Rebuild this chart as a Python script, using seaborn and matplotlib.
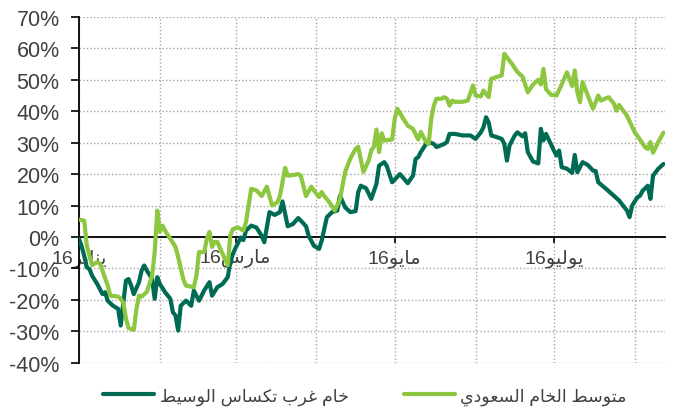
import numpy as np
import pandas as pd
import matplotlib
matplotlib.use("Agg")
import matplotlib.pyplot as plt
import matplotlib.dates as mdates
from matplotlib.ticker import FuncFormatter
from matplotlib.transforms import ScaledTranslation
from matplotlib.lines import Line2D
import seaborn as sns

# ---------------- data ----------------
series_names = ["خام غرب تكساس الوسيط", "متوسط الخام السعودي"]
month_labels = ["يناير", "مارس", "مايو", "يوليو"]
year_label = "16"

saudi_dates = [
    "2016-01-01", "2016-01-03", "2016-01-04", "2016-01-06", "2016-01-08", "2016-01-09", "2016-01-10",
    "2016-01-12", "2016-01-13", "2016-01-16", "2016-01-17", "2016-01-18", "2016-01-19", "2016-01-20",
    "2016-01-22", "2016-01-23", "2016-01-24", "2016-01-25", "2016-01-27", "2016-01-29", "2016-01-30",
    "2016-01-31", "2016-02-01", "2016-02-02", "2016-02-03", "2016-02-05", "2016-02-07", "2016-02-08",
    "2016-02-09", "2016-02-10", "2016-02-11", "2016-02-14", "2016-02-15", "2016-02-16", "2016-02-18",
    "2016-02-19", "2016-02-20", "2016-02-21", "2016-02-22", "2016-02-23", "2016-02-24", "2016-02-27",
    "2016-02-28", "2016-02-29", "2016-03-02", "2016-03-04", "2016-03-05", "2016-03-07", "2016-03-09",
    "2016-03-11", "2016-03-13", "2016-03-15", "2016-03-17", "2016-03-18", "2016-03-20", "2016-03-21",
    "2016-03-23", "2016-03-25", "2016-03-26", "2016-03-28", "2016-03-30", "2016-03-31", "2016-04-02",
    "2016-04-03", "2016-04-04", "2016-04-06", "2016-04-08", "2016-04-10", "2016-04-12", "2016-04-14",
    "2016-04-16", "2016-04-17", "2016-04-19", "2016-04-21", "2016-04-22", "2016-04-23", "2016-04-24",
    "2016-04-25", "2016-04-26", "2016-04-27", "2016-04-30", "2016-05-01", "2016-05-02", "2016-05-04",
    "2016-05-06", "2016-05-08", "2016-05-10", "2016-05-11", "2016-05-13", "2016-05-14", "2016-05-15",
    "2016-05-16", "2016-05-17", "2016-05-19", "2016-05-20", "2016-05-21", "2016-05-22", "2016-05-23",
    "2016-05-24", "2016-05-27", "2016-05-29", "2016-05-31", "2016-06-01", "2016-06-03", "2016-06-04",
    "2016-06-06", "2016-06-07", "2016-06-09", "2016-06-11", "2016-06-12", "2016-06-15", "2016-06-17",
    "2016-06-19", "2016-06-21", "2016-06-23", "2016-06-25", "2016-06-26", "2016-06-27", "2016-06-28",
    "2016-06-30", "2016-07-02", "2016-07-04", "2016-07-06", "2016-07-07", "2016-07-08", "2016-07-09",
    "2016-07-10", "2016-07-11", "2016-07-12", "2016-07-14", "2016-07-16", "2016-07-18", "2016-07-19",
    "2016-07-22", "2016-07-24", "2016-07-25", "2016-07-26", "2016-07-29", "2016-07-31", "2016-08-01",
    "2016-08-03", "2016-08-05", "2016-08-06", "2016-08-07", "2016-08-08", "2016-08-10", "2016-08-12",
]
saudi_values = [
    5.5, 5.2, -2.8, -9.0, -8.0, -8.5, -10.7,
    -15.5, -18.7, -19.0, -19.7, -21.0, -26.0, -29.0,
    -29.6, -23.0, -18.7, -19.0, -17.5, -12.3, -5.0,
    8.4, 1.6, 3.6, 2.0, -0.6, -3.2, -6.4,
    -10.0, -13.5, -15.5, -16.0, -12.3, -4.8, -4.8,
    -0.6, 1.6, -3.2, -1.6, -1.6, -3.5, -9.0,
    0.5, 2.5, 3.0, 2.0, 4.7, 15.3, 14.8,
    13.0, 16.0, 10.0, 11.0, 13.0, 22.0, 19.5,
    19.7, 20.0, 19.5, 13.0, 16.0, 14.8, 12.7,
    14.3, 13.0, 11.0, 8.4, 12.0, 20.7, 25.0,
    28.0, 28.7, 20.7, 24.3, 27.5, 28.7, 34.2,
    27.0, 33.0, 30.7, 31.0, 37.6, 40.8, 38.0,
    35.4, 34.4, 31.0, 33.4, 30.2, 29.6, 37.6,
    41.8, 44.0, 44.0, 44.5, 44.0, 41.8, 43.4,
    43.0, 43.0, 43.4, 48.2, 45.0, 44.7, 46.6,
    44.5, 50.3, 50.9, 51.4, 58.3, 55.0, 52.5,
    51.0, 46.0, 48.5, 50.0, 48.5, 53.5, 47.0,
    45.2, 45.0, 48.5, 52.4, 50.3, 48.0, 53.0,
    46.0, 42.9, 49.3, 45.0, 40.8, 45.0, 43.4,
    44.5, 42.4, 40.2, 42.0, 38.6, 35.0, 33.3,
    31.0, 28.5, 28.0, 30.2, 26.8, 30.2, 33.2,
]

wti_dates = [
    "2016-01-01", "2016-01-02", "2016-01-03", "2016-01-04", "2016-01-05", "2016-01-06", "2016-01-08",
    "2016-01-10", "2016-01-11", "2016-01-12", "2016-01-14", "2016-01-16", "2016-01-17", "2016-01-18",
    "2016-01-19", "2016-01-20", "2016-01-21", "2016-01-22", "2016-01-24", "2016-01-25", "2016-01-26",
    "2016-01-27", "2016-01-29", "2016-01-30", "2016-01-31", "2016-02-01", "2016-02-03", "2016-02-05",
    "2016-02-06", "2016-02-07", "2016-02-08", "2016-02-09", "2016-02-11", "2016-02-13", "2016-02-14",
    "2016-02-16", "2016-02-18", "2016-02-20", "2016-02-21", "2016-02-23", "2016-02-25", "2016-02-27",
    "2016-02-28", "2016-02-29", "2016-03-01", "2016-03-03", "2016-03-04", "2016-03-05", "2016-03-07",
    "2016-03-09", "2016-03-11", "2016-03-12", "2016-03-14", "2016-03-16", "2016-03-18", "2016-03-19",
    "2016-03-21", "2016-03-23", "2016-03-25", "2016-03-26", "2016-03-28", "2016-03-29", "2016-03-31",
    "2016-04-02", "2016-04-03", "2016-04-04", "2016-04-05", "2016-04-07", "2016-04-09", "2016-04-10",
    "2016-04-12", "2016-04-14", "2016-04-16", "2016-04-17", "2016-04-18", "2016-04-20", "2016-04-22",
    "2016-04-24", "2016-04-25", "2016-04-27", "2016-04-28", "2016-04-30", "2016-05-03", "2016-05-06",
    "2016-05-08", "2016-05-09", "2016-05-10", "2016-05-11", "2016-05-13", "2016-05-14", "2016-05-16",
    "2016-05-17", "2016-05-20", "2016-05-21", "2016-05-22", "2016-05-24", "2016-05-27", "2016-05-30",
    "2016-06-01", "2016-06-03", "2016-06-04", "2016-06-05", "2016-06-06", "2016-06-07", "2016-06-09",
    "2016-06-11", "2016-06-12", "2016-06-13", "2016-06-14", "2016-06-16", "2016-06-17", "2016-06-19",
    "2016-06-20", "2016-06-21", "2016-06-23", "2016-06-25", "2016-06-26", "2016-06-27", "2016-06-28",
    "2016-06-29", "2016-07-01", "2016-07-02", "2016-07-03", "2016-07-04", "2016-07-06", "2016-07-08",
    "2016-07-09", "2016-07-10", "2016-07-12", "2016-07-14", "2016-07-16", "2016-07-17", "2016-07-18",
    "2016-07-21", "2016-07-24", "2016-07-26", "2016-07-27", "2016-07-29", "2016-07-30", "2016-07-31",
    "2016-08-02", "2016-08-03", "2016-08-04", "2016-08-06", "2016-08-07", "2016-08-08", "2016-08-10",
    "2016-08-12",
]
wti_values = [
    -0.6, -3.0, -6.0, -9.7, -10.2, -12.3, -15.0,
    -18.2, -17.6, -20.3, -21.9, -22.9, -28.2, -20.8,
    -13.9, -13.4, -15.5, -18.2, -14.4, -10.7, -9.1,
    -10.7, -13.4, -19.7, -12.8, -15.0, -17.6, -19.7,
    -24.0, -25.0, -29.8, -21.9, -20.3, -21.9, -17.1,
    -20.3, -17.0, -14.4, -18.7, -16.0, -15.0, -12.8,
    -8.0, -5.4, -3.5, -0.2, -1.0, 2.0, 3.6,
    3.0, 0.4, -1.7, 7.9, 7.0, 7.9, 11.3,
    3.4, 4.1, 6.0, 5.2, 3.4, 0.4, -2.8,
    -3.8, -1.2, 2.5, 6.3, 7.9, 8.4, 13.1,
    9.4, 7.9, 8.2, 14.2, 16.3, 15.5, 12.1,
    16.9, 22.7, 23.8, 22.5, 17.4, 20.0, 17.1,
    19.5, 24.8, 25.4, 27.0, 29.6, 30.2, 29.6,
    28.6, 29.6, 30.2, 32.8, 32.8, 32.3, 32.3,
    31.2, 33.3, 34.9, 38.1, 36.5, 32.3, 31.8,
    31.2, 29.6, 24.3, 29.1, 32.3, 33.3, 32.0,
    33.0, 27.0, 24.0, 23.4, 34.4, 30.7, 32.8,
    31.0, 27.5, 25.9, 27.5, 22.2, 21.7, 20.4,
    26.1, 20.6, 23.8, 22.9, 21.1, 21.0, 17.4,
    15.3, 13.1, 11.6, 10.5, 8.4, 6.3, 10.0,
    12.6, 13.1, 14.7, 16.3, 12.1, 19.5, 21.7,
    23.2,
]

y_ticks = list(range(-40, 71, 10))

# ---------------- Arabic shaping (matplotlib has no complex text layout) ----------------
_FORMS = {
    'ا': ('\uFE8D', '\uFE8E', None, None),
    'ب': ('\uFE8F', '\uFE90', '\uFE91', '\uFE92'),
    'ت': ('\uFE95', '\uFE96', '\uFE97', '\uFE98'),
    'خ': ('\uFEA5', '\uFEA6', '\uFEA7', '\uFEA8'),
    'د': ('\uFEA9', '\uFEAA', None, None),
    'ر': ('\uFEAD', '\uFEAE', None, None),
    'س': ('\uFEB1', '\uFEB2', '\uFEB3', '\uFEB4'),
    'ط': ('\uFEC1', '\uFEC2', '\uFEC3', '\uFEC4'),
    'ع': ('\uFEC9', '\uFECA', '\uFECB', '\uFECC'),
    'غ': ('\uFECD', '\uFECE', '\uFECF', '\uFED0'),
    'ك': ('\uFED9', '\uFEDA', '\uFEDB', '\uFEDC'),
    'ل': ('\uFEDD', '\uFEDE', '\uFEDF', '\uFEE0'),
    'م': ('\uFEE1', '\uFEE2', '\uFEE3', '\uFEE4'),
    'ن': ('\uFEE5', '\uFEE6', '\uFEE7', '\uFEE8'),
    'و': ('\uFEED', '\uFEEE', None, None),
    'ي': ('\uFEF1', '\uFEF2', '\uFEF3', '\uFEF4'),
}


def shape_ar(text):
    out = []
    n = len(text)
    for i, ch in enumerate(text):
        if ch not in _FORMS:
            out.append(ch)
            continue
        prev = text[i - 1] if i > 0 else None
        nxt = text[i + 1] if i < n - 1 else None
        join_prev = prev in _FORMS and _FORMS[prev][2] is not None
        join_next = nxt in _FORMS and _FORMS[ch][2] is not None
        iso, fin, ini, med = _FORMS[ch]
        if join_prev and join_next:
            out.append(med)
        elif join_prev:
            out.append(fin)
        elif join_next:
            out.append(ini)
        else:
            out.append(iso)
    return "".join(out)


def visual_ar(text):
    return shape_ar(text)[::-1]


# ---------------- style ----------------
sns.set_theme(style="white")
plt.rcParams["font.family"] = ["Liberation Sans", "DejaVu Sans"]
TEXT = "#404040"
DARK = "#006B54"
LIGHT = "#8DC63F"
GRID = "#A6A6A6"
LW = 3.0

fig = plt.figure(figsize=(6.79, 4.10), dpi=100)
ax = fig.add_axes([79 / 679, 1 - 363.6 / 410, (665 - 79) / 679, (363.6 - 18) / 410])

wti = pd.DataFrame({"date": pd.to_datetime(wti_dates), "value": wti_values})
saudi = pd.DataFrame({"date": pd.to_datetime(saudi_dates), "value": saudi_values})

sns.lineplot(data=wti, x="date", y="value", ax=ax, color=DARK, lw=LW,
             estimator=None, sort=False, zorder=3, solid_joinstyle="round")
sns.lineplot(data=saudi, x="date", y="value", ax=ax, color=LIGHT, lw=LW,
             estimator=None, sort=False, zorder=3, solid_joinstyle="round")

ax.set_xlim(pd.Timestamp("2016-01-01"), pd.Timestamp("2016-08-12 14:00"))
ax.set_ylim(-40, 70)
ax.set_xlabel("")
ax.set_ylabel("")

# y axis
ax.set_yticks(y_ticks)
ax.yaxis.set_major_formatter(FuncFormatter(lambda v, p: f"{v:.0f}%"))
ax.tick_params(axis="y", which="major", direction="out", length=6, width=1.2,
               color="black", pad=8, labelsize=15.5, labelcolor=TEXT, left=True)

# x axis
ax.xaxis.set_major_locator(mdates.MonthLocator(bymonth=[1, 3, 5, 7]))
ax.xaxis.set_minor_locator(mdates.MonthLocator())
ax.xaxis.set_major_formatter(mdates.DateFormatter("%m"))
ax.tick_params(axis="x", which="major", direction="out", length=4, width=1.2,
               color="black", pad=4, labelsize=14, labelcolor=TEXT, bottom=True)
ax.tick_params(axis="x", which="minor", length=0)

fig.canvas.draw()
tick_texts = [year_label + visual_ar(m) for m in month_labels]
ax.set_xticks(ax.get_xticks())
ax.set_xticklabels(tick_texts)
offset = ScaledTranslation(6 / 100, 0, fig.dpi_scale_trans)
for lab in ax.get_xticklabels():
    lab.set_transform(lab.get_transform() + offset)

# grid
ax.grid(False)
ax.xaxis.grid(True, which="both", color=GRID, linestyle=(0, (1, 1.6)), linewidth=1.0, zorder=0)
ax.yaxis.grid(True, which="major", color=GRID, linestyle=(0, (1, 1.6)), linewidth=1.0, zorder=0)
ax.set_axisbelow(True)

# spines
for s in ["top", "right"]:
    ax.spines[s].set_visible(False)
ax.spines["left"].set_color("black")
ax.spines["left"].set_linewidth(1.3)
ax.spines["bottom"].set_position(("data", 0))
ax.spines["bottom"].set_color("black")
ax.spines["bottom"].set_linewidth(1.3)
ax.spines["bottom"].set_zorder(2)

# legend
handles = [Line2D([], [], color=DARK, lw=LW), Line2D([], [], color=LIGHT, lw=LW)]
fig.legend(handles, [visual_ar(n) for n in series_names], loc="center",
           bbox_to_anchor=(365 / 679, 1 - 397 / 410), ncol=2, frameon=False,
           fontsize=12.5, handlelength=2.95, handletextpad=0.3, columnspacing=3.2,
           labelcolor=TEXT)

fig.savefig("out.png", dpi=100)
